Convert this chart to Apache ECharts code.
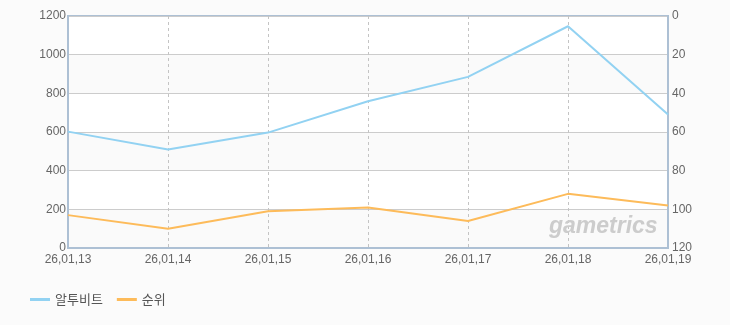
<!DOCTYPE html>
<html><head><meta charset="utf-8">
<script src="https://cdn.jsdelivr.net/npm/echarts@6/dist/echarts.min.js"></script>
<style>html,body{margin:0;padding:0;background:#fbfbfb}#c{width:730px;height:325px}</style>
</head><body><div id="c"></div>
<script>
const categories = ['26,01,13','26,01,14','26,01,15','26,01,16','26,01,17','26,01,18','26,01,19'];
const usersName = '알투비트';
const usersValues = [602, 509, 597, 759, 885, 1147, 690];
const rankName = '순위';
const rankValues = [103, 110, 101, 99, 106, 92, 98];

const chart = echarts.init(document.getElementById('c'));
const lblStyle = {color:'#666', fontSize:12, fontFamily:'"Liberation Sans", Arial, sans-serif'};
chart.setOption({
  backgroundColor:'#fbfbfb',
  animation:false,
  grid:{left:68,right:62,top:16,bottom:77,show:true,borderColor:'#adc0d4',borderWidth:2,backgroundColor:'transparent'},
  legend:{left:25,bottom:14,itemWidth:20,itemHeight:3,itemGap:14,icon:'rect',
    textStyle:{color:'#555',fontSize:13,fontFamily:'"Noto Sans CJK KR", sans-serif'},
    data:[usersName, rankName]},
  graphic:[{type:'text',left:549,top:215,z:10,style:{text:'gametrics',fill:'#cccccc',font:'italic bold 23px "Liberation Sans", Arial, sans-serif'}}],
  xAxis:{type:'category',data:categories,boundaryGap:false,
    axisLine:{lineStyle:{color:'#adc0d4',width:2}},axisTick:{show:false},
    axisLabel:{...lblStyle,margin:6,showMaxLabel:true,showMinLabel:true,interval:0},
    splitLine:{show:true,lineStyle:{color:'#c4c4c4',type:[3,3],width:1}}},
  yAxis:[
    {type:'value',min:0,max:1200,interval:200,position:'left',
      axisLine:{show:true,lineStyle:{color:'#adc0d4',width:2}},axisTick:{show:false},
      axisLabel:{...lblStyle,margin:2,formatter:v=>String(v)},
      splitLine:{lineStyle:{color:'#cccccc',width:1}},
      splitArea:{show:true,areaStyle:{color:['#fafafa','#ffffff']}}},
    {type:'value',min:0,max:120,interval:20,inverse:true,position:'right',
      axisLine:{show:true,lineStyle:{color:'#adc0d4',width:2}},axisTick:{show:false},
      axisLabel:{...lblStyle,margin:4},
      splitLine:{show:false}}
  ],
  series:[
    {name:usersName,type:'line',data:usersValues,yAxisIndex:0,showSymbol:false,symbol:'none',
      lineStyle:{color:'#92d2f2',width:2},itemStyle:{color:'#92d2f2'},z:3},
    {name:rankName,type:'line',data:rankValues,yAxisIndex:1,showSymbol:false,symbol:'none',
      lineStyle:{color:'#fdbb5a',width:2},itemStyle:{color:'#fdbb5a'},z:3}
  ]
});
</script></body></html>
